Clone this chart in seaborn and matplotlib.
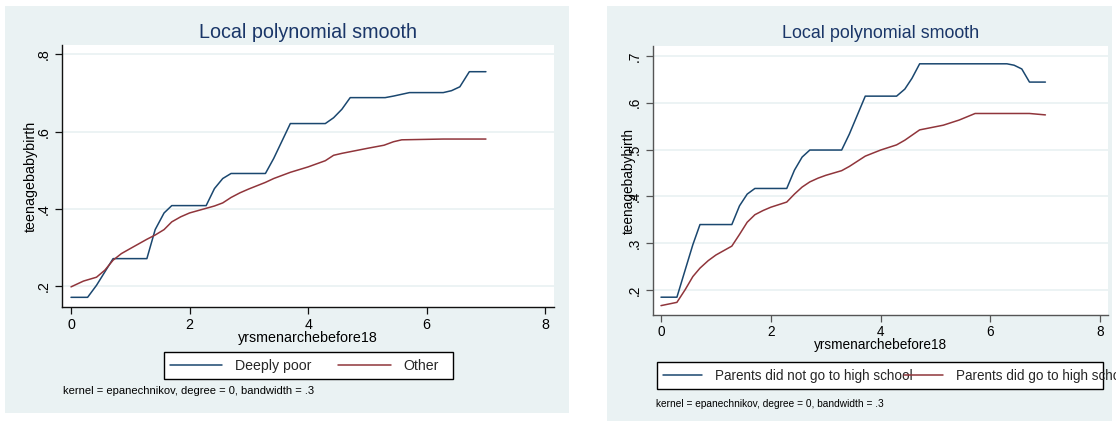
import pandas as pd
import matplotlib.pyplot as plt
import seaborn as sns
from matplotlib.patches import Rectangle

# --- data ---
# left panel: Deeply poor vs Other
poor_x = [0, 0.28, 0.43, 0.71, 1.28, 1.42, 1.57, 1.70, 2.28, 2.42, 2.56, 2.70, 3.28,
          3.42, 3.70, 4.29, 4.43, 4.57, 4.71, 5.30, 5.44, 5.71, 6.28, 6.42, 6.56, 6.72, 7.0]
poor_y = [0.172, 0.172, 0.203, 0.272, 0.272, 0.347, 0.390, 0.409, 0.409, 0.453, 0.479,
          0.492, 0.492, 0.531, 0.621, 0.621, 0.636, 0.658, 0.688, 0.688, 0.692, 0.701,
          0.701, 0.706, 0.716, 0.755, 0.755]
other_x = [0, 0.21, 0.43, 0.57, 0.71, 0.85, 1.0, 1.14, 1.28, 1.42, 1.57, 1.70, 1.85, 2.0,
           2.28, 2.42, 2.56, 2.70, 2.85, 3.0, 3.28, 3.42, 3.70, 4.0, 4.29, 4.43, 4.57,
           5.0, 5.28, 5.44, 5.58, 6.28, 7.0]
other_y = [0.199, 0.214, 0.224, 0.242, 0.268, 0.285, 0.298, 0.310, 0.322, 0.333, 0.347,
           0.367, 0.380, 0.390, 0.402, 0.408, 0.416, 0.430, 0.442, 0.452, 0.469, 0.479,
           0.495, 0.509, 0.525, 0.539, 0.544, 0.557, 0.565, 0.574, 0.579, 0.581, 0.581]

# right panel: parents' schooling
nohs_x = [0, 0.29, 0.44, 0.58, 0.71, 1.29, 1.43, 1.57, 1.71, 2.29, 2.43, 2.57, 2.71, 3.29,
          3.43, 3.72, 4.29, 4.44, 4.57, 4.71, 6.30, 6.43, 6.57, 6.71, 7.0]
nohs_y = [0.185, 0.185, 0.243, 0.297, 0.340, 0.340, 0.380, 0.405, 0.417, 0.417, 0.456,
          0.484, 0.499, 0.499, 0.533, 0.614, 0.614, 0.629, 0.652, 0.683, 0.683, 0.680,
          0.672, 0.644, 0.644]
hs_x = [0, 0.29, 0.44, 0.58, 0.71, 0.86, 1.0, 1.29, 1.43, 1.57, 1.71, 1.86, 2.0, 2.29,
        2.43, 2.57, 2.71, 2.86, 3.0, 3.29, 3.43, 3.72, 4.0, 4.29, 4.44, 4.71, 5.14, 5.43,
        5.72, 6.71, 7.0]
hs_y = [0.167, 0.174, 0.201, 0.229, 0.247, 0.263, 0.275, 0.294, 0.319, 0.345, 0.361,
        0.370, 0.377, 0.388, 0.405, 0.420, 0.431, 0.439, 0.445, 0.455, 0.464, 0.486,
        0.499, 0.510, 0.520, 0.542, 0.552, 0.563, 0.577, 0.577, 0.574]

left_groups = ["Deeply poor", "Other"]
right_groups = ["Parents did not go to high school", "Parents did go to high school"]
x_ticks = [0, 2, 4, 6, 8]
left_yticks = [0.2, 0.4, 0.6, 0.8]
left_yticklabels = [".2", ".4", ".6", ".8"]
right_yticks = [0.2, 0.3, 0.4, 0.5, 0.6, 0.7]
right_yticklabels = [".2", ".3", ".4", ".5", ".6", ".7"]

title = "Local polynomial smooth"
note = "kernel = epanechnikov, degree = 0, bandwidth = .3"

df_left = pd.concat([
    pd.DataFrame({"x": poor_x, "y": poor_y, "group": left_groups[0]}),
    pd.DataFrame({"x": other_x, "y": other_y, "group": left_groups[1]}),
])
df_right = pd.concat([
    pd.DataFrame({"x": nohs_x, "y": nohs_y, "group": right_groups[0]}),
    pd.DataFrame({"x": hs_x, "y": hs_y, "group": right_groups[1]}),
])

# Stata s2color look
navy = "#1a476f"
maroon = "#90353b"
panel_bg = "#eaf2f3"
title_col = "#1a3668"

sns.set_style("ticks")
plt.rcParams["font.family"] = ["Liberation Sans", "DejaVu Sans"]

W, H = 1116, 423
fig = plt.figure(figsize=(W / 100, H / 100), dpi=100, facecolor="white")


def fx(px):
    return px / W


def fy(py):
    return 1 - py / H


# grey graph regions behind each plot
fig.add_artist(Rectangle((fx(5), fy(413)), fx(564), 407 / H, transform=fig.transFigure,
                         facecolor=panel_bg, edgecolor="none", zorder=-5))
fig.add_artist(Rectangle((fx(607), fy(421)), fx(505), 415 / H, transform=fig.transFigure,
                         facecolor=panel_bg, edgecolor="none", zorder=-5))

panels = [
    dict(df=df_left, groups=left_groups, box=(62, 45, 553.5, 307), xlim=(-0.152, 8.14),
         ylim=(0.147, 0.824), yticks=left_yticks, yticklabels=left_yticklabels,
         fs=10.3, tfs=14.2, spine="#111111", ylab_x=31, xlab_y=338, title_y=33,
         leg=dict(x=170, y=366, fs=10.2, hl=3.7, htp=0.9, cs=1.9),
         legbox=(164, 352, 453, 379), note_xy=(63, 391), note_fs=8.0, tick_pad=3),
    dict(df=df_right, groups=right_groups, box=(653.3, 46, 1108, 315), xlim=(-0.14, 8.14),
         ylim=(0.147, 0.721), yticks=right_yticks, yticklabels=right_yticklabels,
         fs=9.8, tfs=12.9, spine="#555555", ylab_x=629, xlab_y=345, title_y=33,
         leg=dict(x=663, y=376, fs=9.75, hl=2.88, htp=0.95, cs=-0.6),
         legbox=(657, 362, 1103, 389), note_xy=(656, 404), note_fs=7.3, tick_pad=2),
]

for p in panels:
    x0, y0, x1, y1 = p["box"]
    ax = fig.add_axes([fx(x0), fy(y1), fx(x1 - x0), (y1 - y0) / H])
    ax.set_facecolor("white")

    for yt in p["yticks"]:
        ax.axhline(yt, color=panel_bg, linewidth=1.3, zorder=0)

    sns.lineplot(data=p["df"], x="x", y="y", hue="group", hue_order=p["groups"],
                 palette=[navy, maroon], linewidth=1.1, errorbar=None, sort=True, ax=ax)

    ax.set_xlim(*p["xlim"])
    ax.set_ylim(*p["ylim"])
    ax.set_xticks(x_ticks)
    ax.set_xticklabels([str(t) for t in x_ticks])
    ax.set_yticks(p["yticks"])
    ax.set_yticklabels(p["yticklabels"], rotation=90, va="center")
    ax.tick_params(axis="both", length=5, width=0.9, color=p["spine"], labelsize=p["fs"],
                   labelcolor="black")
    ax.tick_params(axis="x", pad=p["tick_pad"])
    ax.tick_params(axis="y", pad=3)

    for side in ["top", "right"]:
        ax.spines[side].set_visible(False)
    for side in ["left", "bottom"]:
        ax.spines[side].set_color(p["spine"])
        ax.spines[side].set_linewidth(1.0)

    ax.set_xlabel("yrsmenarchebefore18", fontsize=p["fs"], color="black")
    ax.xaxis.set_label_coords(0.5, -(p["xlab_y"] - y1) / (y1 - y0))
    ax.xaxis.label.set_va("center")
    ax.set_ylabel("teenagebabybirth", fontsize=p["fs"], color="black")
    ax.yaxis.set_label_coords((p["ylab_x"] - x0) / (x1 - x0), 0.5)
    ax.yaxis.label.set_va("center")

    # legend drawn without frame, box added separately (Stata lets text spill out)
    handles, labels = ax.get_legend_handles_labels()
    ax.get_legend().remove()
    lg = p["leg"]
    fig.legend(handles, labels, loc="center left", bbox_to_anchor=(fx(lg["x"]), fy(lg["y"])),
               bbox_transform=fig.transFigure, ncol=2, frameon=False, borderpad=0,
               borderaxespad=0, fontsize=lg["fs"], handlelength=lg["hl"],
               handletextpad=lg["htp"], columnspacing=lg["cs"])
    bx0, by0, bx1, by1 = p["legbox"]
    fig.add_artist(Rectangle((fx(bx0), fy(by1)), fx(bx1 - bx0), (by1 - by0) / H,
                             transform=fig.transFigure, facecolor="white",
                             edgecolor="black", linewidth=1.0, zorder=-1))

    fig.text(fx((x0 + x1) / 2), fy(p["title_y"]), title, ha="center", va="center",
             fontsize=p["tfs"], color=title_col)
    fig.text(fx(p["note_xy"][0]), fy(p["note_xy"][1]), note, ha="left", va="center",
             fontsize=p["note_fs"], color="black")

fig.savefig("out.png", dpi=100, facecolor="white")
